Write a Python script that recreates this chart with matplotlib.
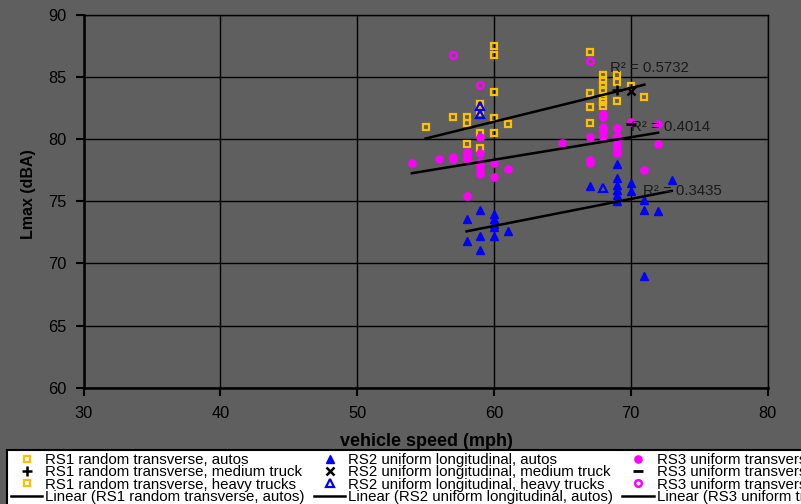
import numpy as np
import matplotlib
matplotlib.use('Agg')
import matplotlib.pyplot as plt

plt.rcParams['font.family'] = ['Liberation Sans', 'DejaVu Sans']

# RS1 random transverse
rs1_autos_speed = [55, 57, 58, 58, 59, 59, 59, 59, 60, 60, 60, 60, 60, 61,
                   67, 67, 67, 67, 68, 68, 68, 68, 68, 68, 69, 69, 69, 70, 71]
rs1_autos_lmax = [81.0, 81.8, 81.8, 79.6, 82.8, 82.2, 80.5, 79.3, 87.5, 86.8, 83.8, 81.7, 80.5, 81.2,
                  87.0, 83.75, 82.6, 81.3, 85.2, 84.8, 84.4, 84.0, 83.0, 82.7, 85.2, 84.6, 83.1, 84.3, 83.4]
rs1_medium_speed = [69]
rs1_medium_lmax = [84.0]
rs1_heavy_speed = [58, 68]
rs1_heavy_lmax = [81.3, 83.2]

# RS2 uniform longitudinal
rs2_autos_speed = [58, 58, 59, 59, 59, 60, 60, 60, 60, 60, 61,
                   67, 69, 69, 69, 69, 69, 69, 70, 70, 71, 71, 71, 72, 73]
rs2_autos_lmax = [73.6, 71.8, 74.3, 72.2, 71.1, 74.0, 73.6, 73.2, 72.9, 72.2, 72.6,
                  76.2, 78.0, 76.9, 76.3, 75.9, 75.5, 75.0, 76.5, 75.8, 75.1, 74.3, 69.0, 74.2, 76.7]
rs2_medium_speed = [70]
rs2_medium_lmax = [83.9]
rs2_heavy_speed = [59, 59, 68]
rs2_heavy_lmax = [82.7, 82.0, 76.1]

# RS3 uniform transverse
rs3_autos_speed = [54, 56, 57, 57, 58, 58, 58, 58, 59, 59, 59, 59, 59, 59, 60, 60, 61,
                   65, 67, 67, 67, 68, 68, 68, 68, 68, 69, 69, 69, 69, 69, 69, 70, 71, 72, 72]
rs3_autos_lmax = [78.1, 78.4, 78.6, 78.4, 79.0, 78.7, 78.4, 75.4, 80.2, 78.9, 78.2, 77.9, 77.5, 77.2, 78.1, 77.0, 77.6,
                  79.7, 80.2, 78.3, 78.1, 82.0, 81.8, 81.0, 80.7, 80.2, 80.9, 80.3, 79.9, 79.5, 79.1, 78.9, 81.4, 77.5, 81.2, 79.6]
rs3_medium_speed = [70]
rs3_medium_lmax = [81.2]
rs3_heavy_speed = [57, 59, 67]
rs3_heavy_lmax = [86.8, 84.4, 86.3]

# linear trendlines (slope, intercept) and R² as shown on the chart
rs1_fit = (0.271, 65.15)
rs2_fit = (0.217, 60.0)
rs3_fit = (0.181, 67.49)
r2_labels = ['R² = 0.5732', 'R² = 0.4014', 'R² = 0.3435']
r2_pos = [(68.5, 85.45), (70.0, 80.65), (70.9, 75.5)]

bg = '#5f5f5f'
yellow = '#ffc000'
fig = plt.figure(figsize=(8.01, 5.04), dpi=100, facecolor=bg)
ax = fig.add_axes([83.6 / 801, 1 - 387.7 / 504, (767.5 - 83.6) / 801, (387.7 - 15) / 504])
ax.set_facecolor(bg)

h = []
# RS1
h.append(ax.plot(rs1_autos_speed, rs1_autos_lmax, 's', ms=4, mfc='none', mec=yellow, mew=1.6,
                 label='RS1 random transverse, autos')[0])
h.append(ax.plot(rs1_medium_speed, rs1_medium_lmax, '+', ms=7, mec='black', mew=1.8,
                 label='RS1 random transverse, medium truck')[0])
h.append(ax.plot(rs1_heavy_speed, rs1_heavy_lmax, 's', ms=4, mfc='none', mec=yellow, mew=1.6,
                 label='RS1 random transverse, heavy trucks')[0])
# RS2
h_rs2 = []
h_rs2.append(ax.plot(rs2_autos_speed, rs2_autos_lmax, '^', ms=6.2, color='blue', mec='blue',
                     label='RS2 uniform longitudinal, autos')[0])
h_rs2.append(ax.plot(rs2_medium_speed, rs2_medium_lmax, 'x', ms=6, mec='black', mew=1.8,
                     label='RS2 uniform longitudinal, medium truck')[0])
h_rs2.append(ax.plot(rs2_heavy_speed, rs2_heavy_lmax, '^', ms=5.5, mfc='none', mec='blue', mew=1.6,
                     label='RS2 uniform longitudinal, heavy trucks')[0])
# RS3
h_rs3 = []
h_rs3.append(ax.plot(rs3_autos_speed, rs3_autos_lmax, 'o', ms=5.2, color='magenta', mec='magenta',
                     label='RS3 uniform transverse, autos')[0])
h_rs3.append(ax.plot(rs3_medium_speed, rs3_medium_lmax, '_', ms=7, mec='black', mew=2,
                     label='RS3 uniform transverse, medium truck')[0])
h_rs3.append(ax.plot(rs3_heavy_speed, rs3_heavy_lmax, 'o', ms=4.8, mfc='none', mec='magenta', mew=1.8,
                     label='RS3 uniform transverse, heavy trucks')[0])

# trendlines
fits = [(rs1_autos_speed, rs1_fit, 'Linear (RS1 random transverse, autos)'),
        (rs2_autos_speed, rs2_fit, 'Linear (RS2 uniform longitudinal, autos)'),
        (rs3_autos_speed, rs3_fit, 'Linear (RS3 uniform transverse, autos)')]
lines = []
for sp, (m, b), lab in fits:
    xs = np.array([min(sp), max(sp)])
    lines.append(ax.plot(xs, m * xs + b, color='black', lw=1.8, zorder=5, label=lab)[0])

for txt, (x, y) in zip(r2_labels, r2_pos):
    ax.text(x, y, txt, fontsize=10.8, color='#1a1a1a', ha='left', va='baseline', zorder=6)

ax.set_xlim(30, 80)
ax.set_ylim(60, 90)
ax.set_xticks(np.arange(30, 81, 10))
ax.set_yticks(np.arange(60, 91, 5))
ax.grid(True, color='black', lw=1)
ax.set_axisbelow(True)
for s in ax.spines.values():
    s.set_color('black')
    s.set_linewidth(1)
ax.spines['left'].set_linewidth(1.8)
ax.spines['bottom'].set_linewidth(1.8)
ax.tick_params(axis='both', colors='black', labelsize=11.8, length=6, width=1.5, direction='out')
ax.tick_params(axis='x', pad=7)
ax.tick_params(axis='y', pad=6)

ax.set_ylabel('Lmax (dBA)', fontsize=11.5, fontweight='bold', color='black')
ax.yaxis.set_label_coords(-0.069, 0.52)
ax.set_xlabel('vehicle speed (mph)', fontsize=13, fontweight='bold', color='black')
ax.xaxis.set_label_coords(0.502, -0.122)

handles = h + [lines[0]] + h_rs2 + [lines[1]] + h_rs3 + [lines[2]]
leg = fig.legend(handles=handles, loc='upper left', bbox_to_anchor=(7 / 801, 1 - 449.5 / 504),
                 ncol=3, fontsize=10.8, frameon=True, fancybox=False, borderaxespad=0,
                 borderpad=0.25, labelspacing=-0.12, handlelength=2.1, handletextpad=0.2,
                 columnspacing=0.6, framealpha=1)
leg.get_frame().set_edgecolor('black')
leg.get_frame().set_linewidth(1.5)
leg.get_frame().set_facecolor('white')

fig.savefig('out.png', dpi=100, facecolor=bg)
